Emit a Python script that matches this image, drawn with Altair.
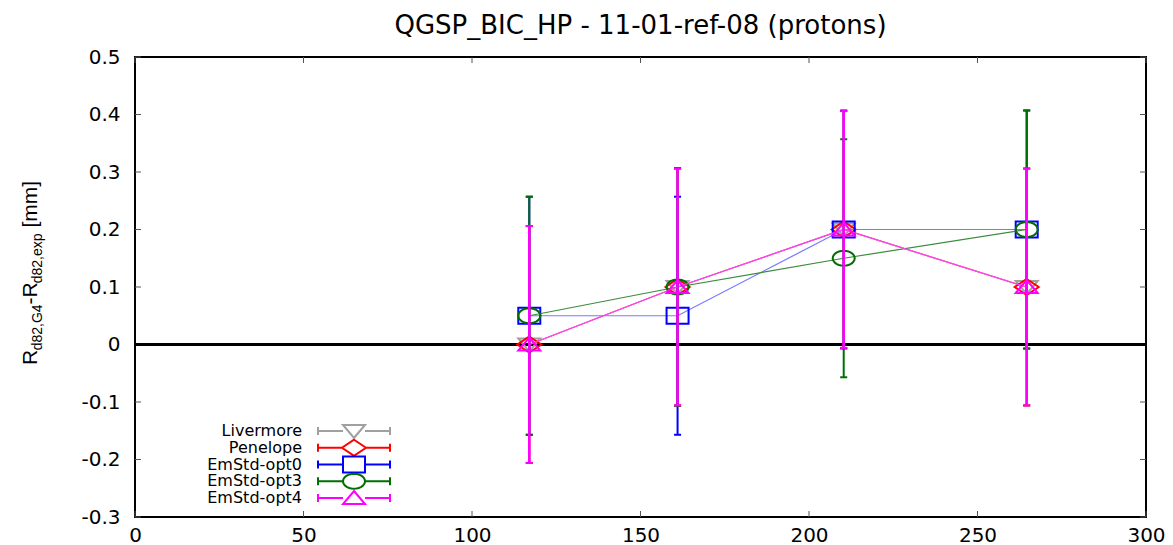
import math
import altair as alt
import pandas as pd

# ---------------- data ----------------
series = ["Livermore", "Penelope", "EmStd-opt0", "EmStd-opt3", "EmStd-opt4"]
energy = [117.0, 161.0, 210.3, 264.6]

val_livermore = [0.0, 0.1, 0.2, 0.1]
val_penelope = [0.0, 0.1, 0.2, 0.1]
val_opt0 = [0.05, 0.05, 0.2, 0.2]
val_opt3 = [0.05, 0.1, 0.15, 0.2]
val_opt4 = [0.0, 0.1, 0.2, 0.1]

err_livermore = [0.206, 0.206, 0.206, 0.206]
err_penelope = [0.206, 0.206, 0.206, 0.206]
err_opt0 = [0.207, 0.207, 0.207, 0.207]
err_opt3 = [0.207, 0.207, 0.207, 0.207]
err_opt4 = [0.206, 0.206, 0.206, 0.206]

x_ticks = [0, 50, 100, 150, 200, 250, 300]
y_ticks = [-0.3, -0.2, -0.1, 0.0, 0.1, 0.2, 0.3, 0.4, 0.5]

title_text = "QGSP_BIC_HP - 11-01-ref-08 (protons)"

values = [val_livermore, val_penelope, val_opt0, val_opt3, val_opt4]
errors = [err_livermore, err_penelope, err_opt0, err_opt3, err_opt4]

# ---------------- styles ----------------
FONT = "Liberation Sans"
WIDE_FONT = "DejaVu Sans"
W, H = 1011, 460

marker_color = ["#a0a0a0", "#ff0000", "#0000ff", "#006e00", "#ff00ff"]
line_color = ["#b8b8b8", "#ff6060", "#7878ff", "#3c8c3c", "#ff40ff"]
err_width = [2, 2, 2, 2, 2.6]


def ellipse_pts(rx, ry, n=28):
    return [(rx * math.cos(2 * math.pi * k / n), ry * math.sin(2 * math.pi * k / n)) for k in range(n)]


# marker outlines as polygons (pixel units; symbol size 4 -> scale 1)
marker_polys = [
    [(0, 7), (11, -6), (-11, -6)],               # triangle down
    [(0, -8), (12, 0), (0, 8), (-12, 0)],        # diamond
    [(-11, -8), (11, -8), (11, 8), (-11, 8)],    # square
    ellipse_pts(11, 7.5),                        # circle (stretched)
    [(0, -7), (11, 6), (-11, 6)],                # triangle up
]
marker_halfw = [11, 12, 11, 11, 11]


def poly_path(pts, dx=0.0):
    return "M" + "L".join(f"{x + dx:.2f},{y:.2f}" for x, y in pts) + "Z"


marker_path = [poly_path(p) for p in marker_polys]


def legend_path(i, dx=60.0):
    hw = marker_halfw[i]
    segs = [
        ((-36, -4), (-36, 4)), ((36, -4), (36, 4)),
        ((-36, 0), (-hw, 0)), ((hw, 0), (36, 0)),
    ]
    bar = "".join(f"M{a[0] + dx:.2f},{a[1]:.2f}L{b[0] + dx:.2f},{b[1]:.2f}" for a, b in segs)
    return bar + poly_path(marker_polys[i], dx)


cap_path = "M-3.5,0L3.5,0"

xscale = alt.Scale(domain=[0, 300], nice=False, zero=False)
yscale = alt.Scale(domain=[-0.3, 0.5], nice=False, zero=False)
xaxis = alt.Axis(values=x_ticks, title=None, ticks=False, domain=False, grid=False,
                 labelFont=WIDE_FONT, labelFontSize=20, labelColor="black", labelPadding=8,
                 labelFlush=False, labelOverlap=False, format="d")
yaxis = alt.Axis(values=y_ticks, title=None, ticks=False, domain=False, grid=False,
                 labelFont=WIDE_FONT, labelFontSize=20, labelColor="black", labelPadding=15,
                 labelOverlap=False,
                 labelExpr="replace(format(datum.value, '.1~f'), '\u2212', '-')")


def X(f):
    return alt.X(f, type="quantitative", scale=xscale, axis=xaxis)


def Y(f):
    return alt.Y(f, type="quantitative", scale=yscale, axis=yaxis)


rows = []
for s, vals, errs in zip(series, values, errors):
    for e, v, er in zip(energy, vals, errs):
        rows.append({"series": s, "energy": e, "value": v, "lo": v - er, "hi": v + er})
df = pd.DataFrame(rows)

layers = []

# inward ticks (mirrored on all four sides)
xt = pd.DataFrame({"t": x_ticks})
yt = pd.DataFrame({"t": y_ticks})
tick_style = dict(color="#555555", strokeWidth=1)
layers.append(alt.Chart(xt).mark_rule(**tick_style).encode(x=X("t"), y=alt.value(H), y2=alt.value(H - 6)))
layers.append(alt.Chart(xt).mark_rule(**tick_style).encode(x=X("t"), y=alt.value(0), y2=alt.value(6)))
layers.append(alt.Chart(yt).mark_rule(**tick_style).encode(y=Y("t"), x=alt.value(0), x2=alt.value(6)))
layers.append(alt.Chart(yt).mark_rule(**tick_style).encode(y=Y("t"), x=alt.value(W), x2=alt.value(W - 6)))

# zero line
layers.append(alt.Chart(pd.DataFrame({"z": [0.0]})).mark_rule(color="black", strokeWidth=3).encode(y=Y("z")))

# series
for i, s in enumerate(series):
    base = alt.Chart(df).transform_filter(alt.datum.series == s)
    c = marker_color[i]
    layers.append(base.mark_line(color=line_color[i], strokeWidth=1.2).encode(x=X("energy"), y=Y("value")))
    layers.append(base.mark_rule(color=c, strokeWidth=err_width[i]).encode(x=X("energy"), y=Y("lo"), y2=alt.Y2("hi")))
    for f in ["lo", "hi"]:
        layers.append(base.mark_point(shape=cap_path, size=4, filled=False, color=c, strokeWidth=2, opacity=1)
                      .encode(x=X("energy"), y=Y(f)))
    layers.append(base.mark_point(shape=marker_path[i], size=4, filled=False, color=c, strokeWidth=2, opacity=1)
                  .encode(x=X("energy"), y=Y("value")))

# one single-entry legend per series (no visible points), stacked inside the plot
LEG_X, LEG_Y, LEG_STEP = 151, 366, 16.75
for i, s in enumerate(series):
    leg = alt.Legend(title=None, orient="none", legendX=LEG_X, legendY=LEG_Y + i * LEG_STEP,
                     direction="vertical", labelAlign="right", labelOffset=0, labelFont=WIDE_FONT,
                     labelFontSize=16, labelColor="black", symbolSize=4, symbolStrokeWidth=2,
                     symbolType=legend_path(i), symbolFillColor="transparent",
                     rowPadding=0, padding=0, offset=0)
    layers.append(
        alt.Chart(df).transform_filter(alt.datum.series == s).transform_filter("false")
        .mark_point(filled=False, strokeWidth=2, opacity=1, size=4)
        .encode(
            x=X("energy"), y=Y("value"),
            color=alt.Color("series:N", scale=alt.Scale(domain=[s], range=[marker_color[i]]), legend=leg),
        )
    )

# y-axis title with subscripts
dummy = pd.DataFrame({"a": [0]})
pieces = [
    ("R", 21, 308, -98),
    ("d82,G4", 14, 293.3, -93),
    ("-R", 21, 247.4, -98),
    ("d82,exp", 14, 226.3, -93),
    ("[mm]", 21, 170.5, -98),
]
for txt, fs, yy, xx in pieces:
    layers.append(
        alt.Chart(dummy).mark_text(text=txt, angle=270, align="left", baseline="alphabetic",
                                   font=FONT, fontSize=fs, color="black")
        .encode(x=alt.value(xx), y=alt.value(yy))
    )

chart = (
    alt.layer(*layers)
    .resolve_scale(color="independent")
    .properties(
        width=W, height=H,
        title=alt.TitleParams(text=title_text, font=WIDE_FONT, fontSize=26, fontWeight="normal",
                              color="black", anchor="middle", frame="group", offset=8),
        padding={"left": 127, "top": 49, "right": 19, "bottom": 28},
        autosize=alt.AutoSizeParams(type="none"),
        background="white",
    )
    .configure_view(stroke="black", strokeWidth=2)
)

chart.save("out.html", embed_options={"renderer": "svg", "actions": False})
